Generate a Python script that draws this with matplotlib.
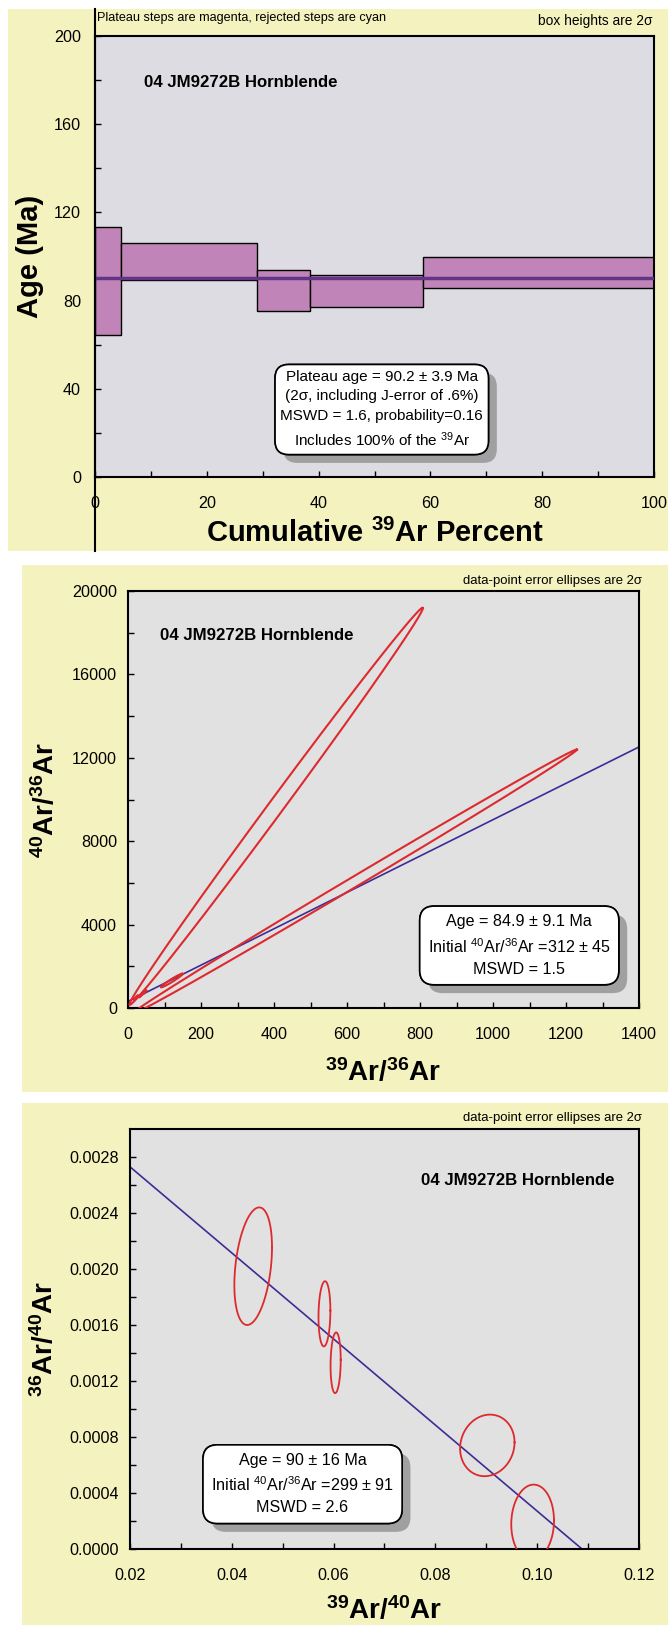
import numpy as np
import matplotlib
matplotlib.use("Agg")
from matplotlib import pyplot as plt
from matplotlib import font_manager
from matplotlib import patheffects
from matplotlib.patches import Rectangle
from matplotlib.lines import Line2D

# dane

# widmo wieku (plateau)
step_edges = [0, 4.6, 28.9, 38.4, 58.6, 100]
step_lo = [64.2, 89.3, 75.3, 77.3, 85.7]
step_hi = [113.2, 105.9, 93.8, 91.8, 99.7]
plateau_age = 90.2

# izochrona normalna 40Ar/36Ar vs 39Ar/36Ar: cx, cy, sx, sy, rho
iso_cx = [406, 620, 22, 35, 45, 120]
iso_cy = [9675, 6050, 490, 600, 750, 1320]
iso_sx = [402, 610, 6, 5, 5, 30]
iso_sy = [9525, 6350, 110, 90, 90, 330]
iso_rho = [0.998, 0.999, 0.9, 0.9, 0.9, 0.97]
iso_intercept = 312
iso_slope = 8.72

# izochrona odwrotna 36Ar/40Ar vs 39Ar/40Ar
inv_cx = [0.0442, 0.0582, 0.0604, 0.0902, 0.0991]
inv_cy = [0.00202, 0.00168, 0.00133, 0.00074, 0.00019]
inv_sx = [0.0037, 0.00117, 0.0010, 0.00535, 0.0042]
inv_sy = [0.00042, 0.000233, 0.000217, 0.00022, 0.00027]
inv_rho = [0.32, 0.1, 0.1, 0.1, 0.05]
inv_y0 = 1 / 299
inv_x0 = 0.1088

sample = "04 JM9272B Hornblende"

# czcionki
names = {f.name for f in font_manager.fontManager.ttflist}
narrow = "Liberation Sans Narrow" in names
fam = ["Liberation Sans Narrow", "Liberation Sans", "DejaVu Sans"] if narrow else ["Liberation Sans", "DejaVu Sans"]
k = 1.0 if narrow else 0.86
plt.rcParams["font.family"] = fam
plt.rcParams["mathtext.fontset"] = "custom"
plt.rcParams["mathtext.rm"] = "Liberation Sans"
plt.rcParams["mathtext.bf"] = "Liberation Sans:bold"
plt.rcParams["mathtext.default"] = "regular"

yellow = "#f4f2be"
red = "#dd2a2e"
blue = "#3c2d96"
W, H = 668, 1625

fig = plt.figure(figsize=(W / 100, H / 100), dpi=100, facecolor="white")


def px_rect(x0, y0, x1, y1, **kw):
    return Rectangle((x0 / W, 1 - y1 / H), (x1 - x0) / W, (y1 - y0) / H,
                     transform=fig.transFigure, zorder=-5, **kw)


fig.add_artist(px_rect(8, 9, 668, 551, color=yellow, lw=0))
fig.add_artist(px_rect(22, 565, 668, 1092, color=yellow, lw=0))
fig.add_artist(px_rect(22, 1103, 668, 1625, color=yellow, lw=0))


def make_ax(x0, y0, x1, y1, fc):
    ax = fig.add_axes([x0 / W, 1 - y1 / H, (x1 - x0) / W, (y1 - y0) / H])
    ax.set_facecolor(fc)
    for s in ax.spines.values():
        s.set_linewidth(1.5)
    ax.tick_params(which="both", direction="in", length=4, width=1,
                   labelsize=13.5 * k, top=False, right=False)
    return ax


def label_font(size):
    return dict(family=["Liberation Sans", "DejaVu Sans"], weight="bold", size=size)


def info_box(ax, x, y, s, size, pad=0.5):
    style = "round,pad=%.2f,rounding_size=0.9" % pad
    t = ax.text(x, y, s, ha="center", va="center", multialignment="center",
                fontsize=size, color="black", zorder=5, linespacing=1.5,
                bbox=dict(boxstyle=style, fc="white", ec="black", lw=1.2))
    t.get_bbox_patch().set_path_effects([
        patheffects.withSimplePatchShadow(offset=(6, -6), shadow_rgbFace="#a0a0a0", alpha=1.0),
        patheffects.Normal()])


def ellipse(ax, cx, cy, sx, sy, rho, lw):
    t = np.linspace(0, 2 * np.pi, 300)
    x = cx + sx * np.cos(t)
    y = cy + sy * (rho * np.cos(t) + np.sqrt(1 - rho ** 2) * np.sin(t))
    ax.plot(x, y, color=red, lw=lw, zorder=3)


# ---- panel 1: widmo wieku ----
ax1 = make_ax(95, 36, 654, 477, "#dcdce2")
widths = np.diff(step_edges)
ax1.bar(step_edges[:-1], np.array(step_hi) - np.array(step_lo), width=widths,
        bottom=step_lo, align="edge", color="#c084b8", edgecolor="black", lw=1, zorder=2)
ax1.hlines(plateau_age, step_edges[0], step_edges[-1], color="#633586", lw=2.5, zorder=3)
ax1.set_xlim(0, 100)
ax1.set_ylim(0, 200)
ax1.set_xticks(np.arange(0, 101, 20))
ax1.set_xticks(np.arange(0, 101, 10), minor=True)
ax1.set_yticks(np.arange(0, 201, 40))
ax1.set_yticks(np.arange(0, 201, 20), minor=True)
ax1.tick_params(axis="x", pad=14)
ax1.tick_params(axis="y", pad=10)
ax1.text(8.8, 179, sample, fontsize=14 * k, fontweight="bold", va="center")
info_box(ax1, 51.3, 30.6,
         "Plateau age = 90.2 ± 3.9 Ma\n(2σ, including J-error of .6%)\n"
         "MSWD = 1.6, probability=0.16\nIncludes 100% of the $^{39}$Ar", 12.8 * k, pad=0.35)
ax1.set_xlabel("Cumulative $^{39}$Ar Percent", **label_font(21))
ax1.xaxis.set_label_coords(0.5, -0.129)
ax1.xaxis.label.set_va("center")
ax1.set_ylabel("Age (Ma)", **label_font(21))
ax1.yaxis.set_label_coords(-0.116, 0.5)
ax1.yaxis.label.set_va("center")
fig.add_artist(Line2D([95 / W, 95 / W], [1 - 9 / H, 1 - 551 / H], color="black", lw=1.5,
                      transform=fig.transFigure))
fig.text(97 / W, 1 - 18 / H, "Plateau steps are magenta, rejected steps are cyan",
         fontsize=10.6 * k, va="center")
fig.text(652 / W, 1 - 21 / H, "box heights are 2σ", fontsize=11.5 * k, va="center", ha="right")

# ---- panel 2: izochrona normalna ----
ax2 = make_ax(128, 591, 639, 1008, "#e1e1e1")
for i in range(len(iso_cx)):
    ellipse(ax2, iso_cx[i], iso_cy[i], iso_sx[i], iso_sy[i], iso_rho[i], 1.5)
ax2.set_xlim(0, 1400)
ax2.set_ylim(0, 20000)
xs = np.array(ax2.get_xlim())
ax2.plot(xs, iso_intercept + iso_slope * xs, color=blue, lw=1.2, zorder=2)
ax2.set_xticks(np.arange(0, 1401, 200))
ax2.set_xticks(np.arange(0, 1401, 100), minor=True)
ax2.set_yticks(np.arange(0, 20001, 4000))
ax2.set_yticks(np.arange(0, 20001, 2000), minor=True)
ax2.tick_params(axis="x", pad=14)
ax2.tick_params(axis="y", pad=8)
ax2.text(87.7, 17880, sample, fontsize=14 * k, fontweight="bold", va="center")
info_box(ax2, 1072, 3000,
         "Age = 84.9 ± 9.1 Ma\nInitial $^{40}$Ar/$^{36}$Ar =312 ± 45\nMSWD = 1.5", 13.5 * k)
ax2.set_xlabel("$^{39}$Ar/$^{36}$Ar", **label_font(20))
ax2.xaxis.set_label_coords(0.5, -0.156)
ax2.xaxis.label.set_va("center")
ax2.set_ylabel("$^{40}$Ar/$^{36}$Ar", **label_font(20))
ax2.yaxis.set_label_coords(-0.162, 0.5)
ax2.yaxis.label.set_va("center")
fig.text(642 / W, 1 - 581 / H, "data-point error ellipses are 2σ", fontsize=11 * k,
         va="center", ha="right")

# ---- panel 3: izochrona odwrotna ----
ax3 = make_ax(130, 1129, 639, 1549, "#e1e1e1")
for i in range(len(inv_cx)):
    ellipse(ax3, inv_cx[i], inv_cy[i], inv_sx[i], inv_sy[i], inv_rho[i], 1.3)
ax3.set_xlim(0.02, 0.12)
ax3.set_ylim(0, 0.003)
xl = np.array([0.02, inv_x0])
ax3.plot(xl, inv_y0 * (1 - xl / inv_x0), color=blue, lw=1.2, zorder=2)
ax3.set_xticks(np.arange(0.02, 0.1201, 0.02))
ax3.set_xticks(np.arange(0.02, 0.1201, 0.01), minor=True)
ax3.set_xticklabels(["0.02", "0.04", "0.06", "0.08", "0.10", "0.12"])
ax3.set_yticks(np.arange(0, 0.00281, 0.0004))
ax3.set_yticks(np.arange(0, 0.003, 0.0002), minor=True)
ax3.set_yticklabels(["%.4f" % v for v in np.arange(0, 0.00281, 0.0004)])
ax3.tick_params(axis="x", pad=14)
ax3.tick_params(axis="y", pad=8)
ax3.text(0.0772, 0.00263, sample, fontsize=14 * k, fontweight="bold", va="center")
info_box(ax3, 0.0539, 0.000463,
         "Age = 90 ± 16 Ma\nInitial $^{40}$Ar/$^{36}$Ar =299 ± 91\nMSWD = 2.6", 13.5 * k)
ax3.set_xlabel("$^{39}$Ar/$^{40}$Ar", **label_font(20))
ax3.xaxis.set_label_coords(0.5, -0.146)
ax3.xaxis.label.set_va("center")
ax3.set_ylabel("$^{36}$Ar/$^{40}$Ar", **label_font(20))
ax3.yaxis.set_label_coords(-0.167, 0.5)
ax3.yaxis.label.set_va("center")
fig.text(642 / W, 1 - 1118 / H, "data-point error ellipses are 2σ", fontsize=11 * k,
         va="center", ha="right")

fig.savefig("out.png", dpi=100)
